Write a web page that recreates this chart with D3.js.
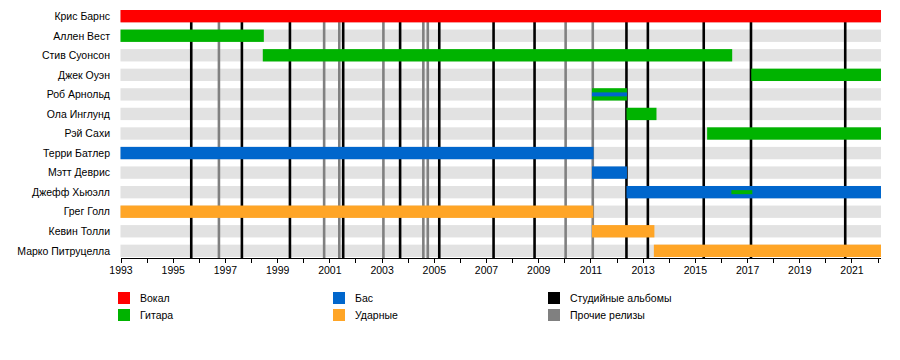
<!DOCTYPE html>
<html lang="ru">
<head>
<meta charset="utf-8">
<title>Six Feet Under timeline</title>
<style>
  body { margin: 0; background: #fff; }
  svg text { font-family: "Liberation Sans", Arial, sans-serif; fill: #000; }
  .axis text { font-size: 10.5px; }
  .axis path, .axis line { stroke: #000; shape-rendering: crispEdges; }
</style>
</head>
<body>
<div id="chart"></div>
<script src="https://cdn.jsdelivr.net/npm/d3@7"></script>
<script>
// members, one row each
var names = ["Крис Барнс", "Аллен Вест", "Стив Суонсон", "Джек Оуэн", "Роб Арнольд",
  "Ола Инглунд", "Рэй Сахи", "Терри Батлер", "Мэтт Деврис", "Джефф Хьюэлл",
  "Грег Голл", "Кевин Толли", "Марко Питруцелла"];
var roles = ["vocal", "guitar", "guitar", "guitar", "guitar", "guitar", "guitar",
  "bass", "bass", "bass", "drums", "drums", "drums"];
var END = 2022.13;
var starts = [1993, 1993, 1998.45, 2017.16, 2011.06, 2012.38, 2015.47, 1993, 2011.06, 2012.38, 1993, 2011.06, 2013.43];
var ends = [END, 1998.49, 2016.43, END, 2012.40, 2013.53, END, 2011.12, 2012.40, END, 2011.11, 2013.45, END];

// thin secondary-role stripes
var extraNames = ["Роб Арнольд", "Джефф Хьюэлл"];
var extraRoles = ["bass", "guitar"];
var extraStarts = [2011.06, 2016.40];
var extraEnds = [2012.40, 2017.20];

// releases
var studioAlbums = [1995.71, 1997.65, 1999.49, 2001.53, 2003.71, 2005.21, 2007.29,
  2008.86, 2012.38, 2013.20, 2015.34, 2017.15, 2020.76];
var otherReleases = [1996.77, 2000.80, 2001.38, 2003.07, 2004.60, 2004.77, 2010.05, 2011.09];

var legendKeys = ["vocal", "guitar", "bass", "drums", "studio", "other"];
var legendLabels = ["Вокал", "Гитара", "Бас", "Ударные", "Студийные альбомы", "Прочие релизы"];

var colors = {
  vocal: "#ff0000", guitar: "#00b300", bass: "#0066cc", drums: "#ffa526",
  studio: "#000000", other: "#808080"
};

var width = 900, height = 360;
var svg = d3.select("#chart").append("svg")
    .attr("width", width)
    .attr("height", height);

var x = d3.scaleLinear().domain([1993, END]).range([120.5, 881]);
var y = d3.scaleBand().domain(names).range([10, 257]).paddingInner(7 / 19).paddingOuter(0);
var bh = y.bandwidth();
var axisY = y(names[names.length - 1]) + bh + 1;

// grey row backgrounds
svg.selectAll(".bg")
  .data(names)
  .enter().append("rect")
    .attr("x", x(1993))
    .attr("y", function(d) { return y(d); })
    .attr("width", x(END) - x(1993))
    .attr("height", bh)
    .attr("fill", "#e2e2e2");

// release lines
function lines(data, color) {
  svg.selectAll(null)
    .data(data)
    .enter().append("line")
      .attr("x1", function(d) { return x(d); })
      .attr("x2", function(d) { return x(d); })
      .attr("y1", y(names[0]))
      .attr("y2", axisY)
      .attr("stroke", color)
      .attr("stroke-width", 2.6);
}
lines(otherReleases, colors.other);
lines(studioAlbums, colors.studio);

// member bars
svg.selectAll(".bar")
  .data(names)
  .enter().append("rect")
    .attr("class", "bar")
    .attr("x", function(d, i) { return x(starts[i]); })
    .attr("y", function(d) { return y(d); })
    .attr("width", function(d, i) { return x(ends[i]) - x(starts[i]); })
    .attr("height", bh)
    .attr("fill", function(d, i) { return colors[roles[i]]; });

svg.selectAll(".extra")
  .data(extraNames)
  .enter().append("rect")
    .attr("class", "extra")
    .attr("x", function(d, i) { return x(extraStarts[i]); })
    .attr("y", function(d) { return y(d) + bh / 2 - 2; })
    .attr("width", function(d, i) { return x(extraEnds[i]) - x(extraStarts[i]); })
    .attr("height", 4)
    .attr("fill", function(d, i) { return colors[extraRoles[i]]; });

// names
svg.selectAll(".name")
  .data(names)
  .enter().append("text")
    .attr("x", 110)
    .attr("y", function(d) { return y(d) + bh / 2; })
    .attr("dy", "0.36em")
    .attr("text-anchor", "end")
    .style("font-size", "10.5px")
    .text(function(d) { return d; });

// axis
svg.append("g")
    .attr("class", "axis")
    .attr("transform", "translate(0," + axisY + ")")
    .call(d3.axisBottom(x)
      .tickValues(d3.range(1993, 2023))
      .tickSize(5)
      .tickSizeOuter(0)
      .tickPadding(4)
      .tickFormat(function(d) { return (d - 1993) % 2 === 0 ? d : ""; }))
    .call(function(g) { g.select(".domain").attr("d", "M" + x(1993) + ",0.5H" + x(END)); });

// legend
var lx = [118, 333, 548], ly = [292, 309];
legendKeys.forEach(function(k, i) {
  var cx = lx[Math.floor(i / 2)], cy = ly[i % 2];
  svg.append("rect")
    .attr("x", cx).attr("y", cy)
    .attr("width", 12).attr("height", 12)
    .attr("fill", colors[k]);
  svg.append("text")
    .attr("x", cx + 22).attr("y", cy + 6)
    .attr("dy", "0.36em")
    .style("font-size", "10.5px")
    .text(legendLabels[i]);
});
</script>
</body>
</html>
